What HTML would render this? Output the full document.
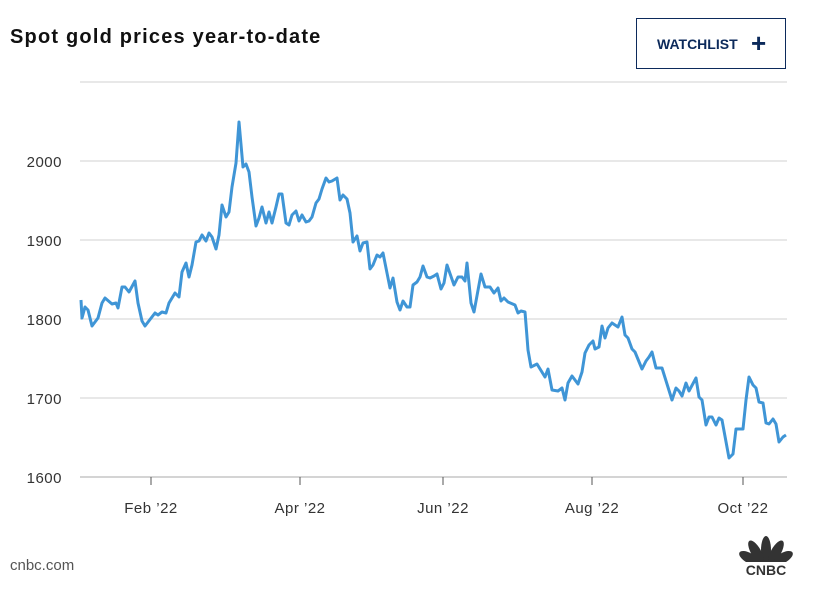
<!DOCTYPE html>
<html><head><style>
body{margin:0;width:817px;height:601px;background:#fff;font-family:"Liberation Sans",sans-serif;position:relative;overflow:hidden}
.t{position:absolute;left:10px;top:26px;font-size:20px;font-weight:bold;color:#111;letter-spacing:1.2px}
.btn{position:absolute;left:636px;top:18px;width:148px;height:49px;border:1.5px solid #0c2a5b;box-sizing:content-box}
.btn span{position:absolute;left:20px;top:17px;font-size:14px;font-weight:bold;color:#0c2a5b}
.btn b{position:absolute;left:114px;top:9px;font-size:26px;color:#0c2a5b;font-weight:bold}
</style></head><body>
<div class="t">Spot gold prices year-to-date</div>
<div class="btn"><span>WATCHLIST</span><b>+</b></div>
<svg width="817" height="601" style="position:absolute;left:0;top:0">
<g stroke="#d9d9d9" stroke-width="1.3">
<line x1="80" y1="82" x2="787" y2="82"/>
<line x1="80" y1="161" x2="787" y2="161"/>
<line x1="80" y1="240" x2="787" y2="240"/>
<line x1="80" y1="319" x2="787" y2="319"/>
<line x1="80" y1="398" x2="787" y2="398"/>
</g>
<line x1="80" y1="477" x2="787" y2="477" stroke="#bbb" stroke-width="1.3"/>
<g stroke="#555" stroke-width="1"><line x1="151" y1="477" x2="151" y2="485"/><line x1="300" y1="477" x2="300" y2="485"/><line x1="443" y1="477" x2="443" y2="485"/><line x1="592" y1="477" x2="592" y2="485"/><line x1="743" y1="477" x2="743" y2="485"/></g>
<g font-size="15" fill="#333" text-anchor="end" letter-spacing="0.5"><text x="62" y="167">2000</text><text x="62" y="246">1900</text><text x="62" y="325">1800</text><text x="62" y="404">1700</text><text x="62" y="483">1600</text></g>
<g font-size="15" fill="#333" text-anchor="middle" letter-spacing="0.5"><text x="151" y="513">Feb ’22</text><text x="300" y="513">Apr ’22</text><text x="443" y="513">Jun ’22</text><text x="592" y="513">Aug ’22</text><text x="743" y="513">Oct ’22</text></g>
<polyline fill="none" stroke="#3f95d6" stroke-width="3" stroke-linejoin="round" points="81,300 82,318 85,307 88,310 92,326 98,318 102,303 105,298 112,304 116,303 118,308 122,287 125,287 129,292 135,281 138,303 142,321 145,326 155,313 158,315 162,312 166,313 169,303 175,293 179,297 182,272 186,263 189,277 192,265 196,242 199,241 202,235 206,241 209,233 212,237 216,249 219,235 222,205 226,217 229,212 232,187 236,163 239,122 243,167 246,164 249,172 252,197 256,226 259,218 262,207 266,223 269,212 272,223 276,207 279,194 282,194 286,223 289,225 292,215 296,211 299,221 302,215 306,222 309,221 312,217 316,203 319,199 322,189 326,178 329,182 332,181 337,178 340,200 343,195 347,199 350,213 353,242 357,236 360,251 363,243 367,242 370,269 373,265 377,255 380,257 383,253 387,273 390,288 393,278 397,302 400,310 403,301 407,307 410,307 413,285 417,282 420,277 423,266 427,277 430,278 434,276 437,274 441,289 444,283 447,265 454,285 458,277 462,277 465,281 467,263 471,303 474,312 481,274 485,287 490,287 494,293 498,288 501,301 504,298 508,302 515,305 518,313 521,311 525,312 527,337 528,350 531,367 537,364 545,377 548,369 552,390 558,391 562,388 565,400 568,383 572,376 578,384 582,372 585,353 589,345 593,341 595,349 599,347 602,326 605,338 608,328 612,323 618,327 622,317 625,335 628,338 632,349 635,352 642,369 646,361 649,357 652,352 656,368 662,368 672,400 676,388 679,391 682,396 686,383 689,391 696,378 699,397 702,400 706,425 709,417 712,417 716,425 719,418 722,420 729,458 733,454 736,429 743,429 746,400 749,377 753,385 756,388 759,402 763,403 766,423 769,424 773,419 776,424 779,442 783,437 786,435"/>
<text x="10" y="570" font-size="15" fill="#555">cnbc.com</text>
<g fill="#333">
<ellipse cx="766" cy="550" rx="5" ry="14"/>
<ellipse cx="756" cy="552" rx="5" ry="13" transform="rotate(-30 756 552)"/>
<ellipse cx="776" cy="552" rx="5" ry="13" transform="rotate(30 776 552)"/>
<ellipse cx="749" cy="558" rx="5" ry="11" transform="rotate(-60 749 558)"/>
<ellipse cx="783" cy="558" rx="5" ry="11" transform="rotate(60 783 558)"/>
<rect x="740" y="562" width="52" height="14" fill="#fff"/>
<text x="766" y="575" font-size="14" font-weight="bold" text-anchor="middle">CNBC</text>
</g>
</svg>
</body></html>
